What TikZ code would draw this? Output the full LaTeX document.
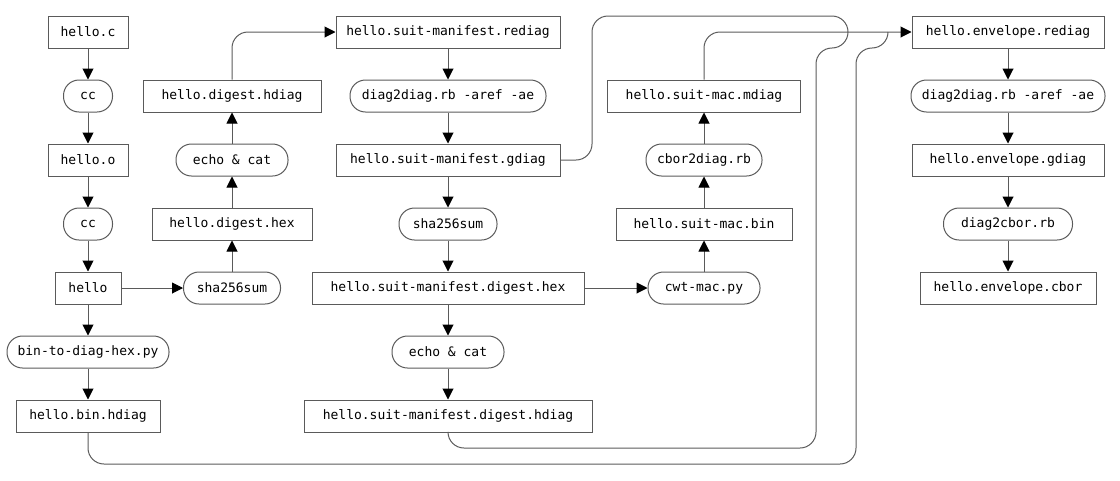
\documentclass[tikz,border=0pt]{standalone}
\usepackage{fontspec}
\setmonofont{DejaVu Sans Mono}
\usetikzlibrary{arrows.meta}
\definecolor{ln}{HTML}{5A5A5A}
\tikzset{
  every node/.style={font=\ttfamily\fontsize{13}{15}\selectfont, text=black, inner sep=0pt, minimum height=32pt},
  filebox/.style={draw=ln, line width=1pt, rectangle, minimum width=#1},
  procbox/.style={draw=ln, line width=1pt, rectangle, rounded corners=15.5pt, minimum width=#1},
  conn/.style={draw=ln, line width=1pt, -{Triangle[length=11pt,width=11pt,color=black]}},
  wire/.style={draw=ln, line width=1pt},
}
\begin{document}
\begin{tikzpicture}[x=1pt,y=-1pt]
\useasboundingbox (0,0) rectangle (1120,480);
% column 1
\node[filebox=80] (c1) at (88,32) {hello.c};
\node[procbox=49] (cc1) at (88,96) {cc};
\node[filebox=80] (o) at (88,160) {hello.o};
\node[procbox=49] (cc2) at (88,224) {cc};
\node[filebox=66] (hello) at (88,288) {hello};
\node[procbox=162] (bthp) at (88,352) {bin-to-diag-hex.py};
\node[filebox=144] (bhd) at (88,416) {hello.bin.hdiag};
% column 2
\node[procbox=97] (sha1) at (232,288) {sha256sum};
\node[filebox=160] (dhex) at (232,224) {hello.digest.hex};
\node[procbox=112] (echo1) at (232,160) {echo \& cat};
\node[filebox=178] (dhd) at (232,96) {hello.digest.hdiag};
% column 3
\node[filebox=224] (rediag) at (448,32) {hello.suit-manifest.rediag};
\node[procbox=196] (d2d) at (448,96) {diag2diag.rb -aref -ae};
\node[filebox=224] (gdiag) at (448,160) {hello.suit-manifest.gdiag};
\node[procbox=98] (sha2) at (448,224) {sha256sum};
\node[filebox=272] (sdhex) at (448,288) {hello.suit-manifest.digest.hex};
\node[procbox=112] (echo2) at (448,352) {echo \& cat};
\node[filebox=288] (sdhd) at (448,416) {hello.suit-manifest.digest.hdiag};
% column 4
\node[filebox=193] (mdiag) at (704,96) {hello.suit-mac.mdiag};
\node[procbox=116] (c2d) at (704,160) {cbor2diag.rb};
\node[filebox=176] (smbin) at (704,224) {hello.suit-mac.bin};
\node[procbox=112] (cwt) at (704,288) {cwt-mac.py};
% column 5
\node[filebox=192] (erediag) at (1008,32) {hello.envelope.rediag};
\node[procbox=194] (ed2d) at (1008,96) {diag2diag.rb -aref -ae};
\node[filebox=192] (egdiag) at (1008,160) {hello.envelope.gdiag};
\node[procbox=129] (d2cbor) at (1008,224) {diag2cbor.rb};
\node[filebox=176] (ecbor) at (1008,288) {hello.envelope.cbor};
% merge points
\coordinate (m1) at (848,32);
\coordinate (m2) at (888,32);
% connectors
\draw[conn] (c1) -- (cc1);
\draw[conn] (cc1) -- (o);
\draw[conn] (o) -- (cc2);
\draw[conn] (cc2) -- (hello);
\draw[conn] (hello) -- (bthp);
\draw[conn] (bthp) -- (bhd);
\draw[conn] (hello) -- (sha1);
\draw[conn] (sha1) -- (dhex);
\draw[conn] (dhex) -- (echo1);
\draw[conn] (echo1) -- (dhd);
\draw[conn, rounded corners=16pt] (dhd.north) |- (rediag.west);
\draw[conn] (rediag) -- (d2d);
\draw[conn] (d2d) -- (gdiag);
\draw[conn] (gdiag) -- (sha2);
\draw[conn] (sha2) -- (sdhex);
\draw[conn] (sdhex) -- (echo2);
\draw[conn] (echo2) -- (sdhd);
\draw[conn] (sdhex) -- (cwt);
\draw[conn] (cwt) -- (smbin);
\draw[conn] (smbin) -- (c2d);
\draw[conn] (c2d) -- (mdiag);
\draw[conn, rounded corners=16pt] (mdiag.north) |- (erediag.west);
\draw[conn] (erediag) -- (ed2d);
\draw[conn] (ed2d) -- (egdiag);
\draw[conn] (egdiag) -- (d2cbor);
\draw[conn] (d2cbor) -- (ecbor);
% merging wires
\draw[wire, rounded corners=16pt] (gdiag.east) -| (592,16) -| (m1);
\draw[wire, rounded corners=16pt] (sdhd.south) |- (816,448) |- (848,48) -- (m1);
\draw[wire, rounded corners=16pt] (bhd.south) |- (856,464) |- (888,48) -- (m2);
\end{tikzpicture}
\end{document}
